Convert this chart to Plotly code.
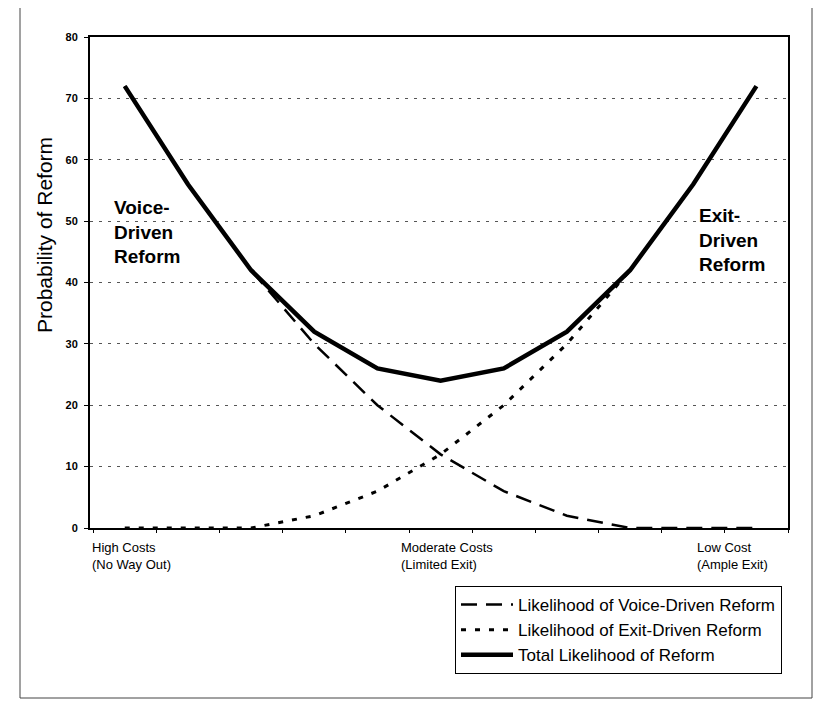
import plotly.graph_objects as go

# ---- data ----
categories = list(range(11))  # 0 = high exit costs ... 10 = low exit costs
voice_reform = [72, 56, 42, 30, 20, 12, 6, 2, 0, 0, 0]
exit_reform = [0, 0, 0, 2, 6, 12, 20, 30, 42, 56, 72]
total_reform = [72, 56, 42, 32, 26, 24, 26, 32, 42, 56, 72]
x_label_positions = [0, 5, 10]
x_labels = ["High Costs<br>(No Way Out)", "Moderate Costs<br>(Limited Exit)", "Low Cost<br>(Ample Exit)"]
x_label_shift = [-35, -42, -61]
y_ticks = [0, 10, 20, 30, 40, 50, 60, 70, 80]
series_names = ["Likelihood of Voice-Driven Reform", "Likelihood of Exit-Driven Reform",
                "Total Likelihood of Reform"]

FONT = "Liberation Sans, Arial, sans-serif"

# page has an 8px body margin; work in reference-page pixels and convert
OFF = 8
W, H = 821 - 2 * OFF, 707 - 2 * OFF
L = 90 - OFF
T = 37 - OFF
PR = 788 - OFF
PB = 528 - OFF
R = W - PR
B = H - PB
pw, ph = PR - L, PB - T


def px(x):
    return (x - OFF - L) / pw


def py(y):
    return (PB - (y - OFF)) / ph


fig = go.Figure()
fig.add_trace(go.Scatter(x=categories, y=voice_reform, mode="lines", name=series_names[0],
                         legendgroup="a",
                         line=dict(color="black", width=2.5, dash="16px,9px")))
fig.add_trace(go.Scatter(x=categories, y=exit_reform, mode="lines", name=series_names[1],
                         legendgroup="b",
                         line=dict(color="black", width=3, dash="5px,9px")))
fig.add_trace(go.Scatter(x=categories, y=total_reform, mode="lines", name=series_names[2],
                         legendgroup="c",
                         line=dict(color="black", width=4.5)))

fig.update_layout(
    width=W, height=H,
    margin=dict(l=L, r=R, t=T, b=B),
    paper_bgcolor="white", plot_bgcolor="white",
    font=dict(family=FONT, color="black", size=13),
    showlegend=True,
    legend=dict(
        x=px(782), y=py(586), xanchor="right", yanchor="top",
        bordercolor="black", borderwidth=1, bgcolor="white",
        font=dict(family=FONT, size=17, color="black"),
        tracegroupgap=3, itemwidth=52, traceorder="normal",
    ),
    xaxis=dict(
        range=[-0.55, 10.5], showgrid=False, zeroline=False,
        showline=True, linecolor="black", linewidth=2, mirror=True,
        tickvals=x_label_positions, ticktext=["", "", ""], ticks="",
        minor=dict(tick0=-0.5, dtick=1, ticks="outside", ticklen=3, tickcolor="black", tickwidth=1),
    ),
    yaxis=dict(
        range=[0, 80], tickvals=y_ticks, showline=True, linecolor="black", linewidth=2, mirror=True,
        ticks="outside", ticklen=4, tickcolor="black", tickwidth=1,
        tickfont=dict(family=FONT, size=11, color="black", weight="bold"),
        showgrid=True, gridcolor="#555555", gridwidth=1, griddash="3px,6px",
        zeroline=False, ticklabelstandoff=4,
    ),
)

# x category labels
for xv, txt, sh in zip(x_label_positions, x_labels, x_label_shift):
    fig.add_annotation(x=xv, y=0, xref="x", yref="paper", text=txt, showarrow=False,
                       xanchor="left", yanchor="top", align="left", xshift=sh, yshift=-10,
                       font=dict(family=FONT, size=13, color="black"))

# y axis title
fig.add_annotation(x=px(45), y=py(235), xref="paper", yref="paper",
                   xanchor="center", yanchor="middle",
                   text="Probability of Reform", textangle=-90, showarrow=False,
                   font=dict(family=FONT, size=21, color="black"))

# region labels
fig.add_annotation(x=px(112), y=py(195), xref="paper", yref="paper",
                   text="<b>Voice-<br>Driven<br>Reform</b>", showarrow=False, align="left",
                   xanchor="left", yanchor="top", font=dict(family=FONT, size=19, color="black"))
fig.add_annotation(x=px(697), y=py(203), xref="paper", yref="paper",
                   text="<b>Exit-<br>Driven<br>Reform</b>", showarrow=False, align="left",
                   xanchor="left", yanchor="top", font=dict(family=FONT, size=19, color="black"))

# outer chart frame
fig.add_shape(type="rect", xref="paper", yref="paper",
              x0=px(20), x1=px(812), y0=py(698), y1=py(6),
              line=dict(color="#444444", width=1))

fig.write_html("out.html")
